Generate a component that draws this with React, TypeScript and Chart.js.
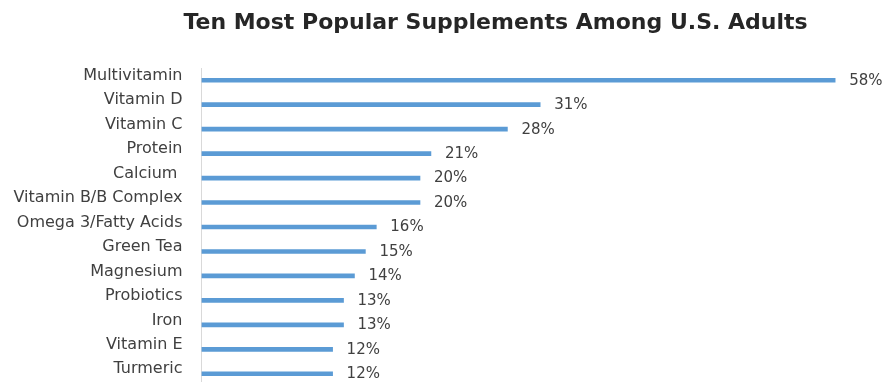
import React, { useEffect, useRef } from "react";
import { Chart, registerables } from "chart.js";

Chart.register(...registerables);

const TITLE = "Ten Most Popular Supplements Among U.S. Adults";
const categories = [
  "Multivitamin",
  "Vitamin D",
  "Vitamin C",
  "Protein",
  "Calcium ",
  "Vitamin B/B Complex",
  "Omega 3/Fatty Acids",
  "Green Tea",
  "Magnesium",
  "Probiotics",
  "Iron",
  "Vitamin E",
  "Turmeric",
];
const percentages = [58, 31, 28, 21, 20, 20, 16, 15, 14, 13, 13, 12, 12];
const X_MIN = 0;
const X_MAX = 60;

const titlePlugin = {
  id: "customTitle",
  afterDraw(chart: any) {
    const ctx = chart.ctx;
    ctx.save();
    ctx.font = "bold 22px 'DejaVu Sans'";
    ctx.fillStyle = "#262626";
    ctx.textAlign = "center";
    ctx.textBaseline = "alphabetic";
    ctx.fillText(TITLE, 495.5, 29);
    ctx.restore();
  },
};

const valueLabelPlugin = {
  id: "valueLabels",
  afterDatasetsDraw(chart: any) {
    const ctx = chart.ctx;
    const meta = chart.getDatasetMeta(0);
    const data = chart.data.datasets[0].data as number[];
    ctx.save();
    ctx.font = "15px 'DejaVu Sans'";
    ctx.fillStyle = "#404040";
    ctx.textAlign = "left";
    ctx.textBaseline = "middle";
    meta.data.forEach((bar: any, i: number) => {
      ctx.fillText(`${data[i]}%`, bar.x + 14, bar.y + 0.5);
    });
    ctx.restore();
  },
};

export default function App() {
  const canvasRef = useRef<HTMLCanvasElement | null>(null);

  useEffect(() => {
    if (!canvasRef.current) return;
    const chart = new Chart(canvasRef.current, {
      type: "bar",
      data: {
        labels: categories,
        datasets: [
          {
            data: percentages,
            backgroundColor: "#5b9bd5",
            borderWidth: 0,
            barThickness: 4,
          },
        ],
      },
      options: {
        indexAxis: "y",
        animation: false,
        responsive: true,
        maintainAspectRatio: false,
        layout: { padding: { top: 68, right: 28, left: 0, bottom: 0 } },
        plugins: {
          legend: { display: false },
          title: { display: false },
          tooltip: { enabled: false },
        },
        scales: {
          x: { display: false, min: X_MIN, max: X_MAX },
          y: {
            grid: { display: false, drawTicks: false },
            border: { display: true, color: "#d9d9d9", width: 1 },
            ticks: {
              autoSkip: false,
              padding: 19,
              labelOffset: -4.5,
              color: "#404040",
              font: { family: "'DejaVu Sans'", size: 16 },
            },
            afterFit(scale: any) {
              scale.width = 201.5;
              scale.paddingTop = 0;
              scale.paddingBottom = 0;
            },
          },
        },
      },
      plugins: [titlePlugin, valueLabelPlugin],
    });
    return () => chart.destroy();
  }, []);

  return (
    <div
      style={{
        position: "fixed",
        left: 0,
        top: 0,
        width: 885,
        height: 382,
        overflow: "hidden",
        background: "#ffffff",
      }}
    >
      <div style={{ position: "relative", width: 885, height: 386 }}>
        <canvas ref={canvasRef} />
      </div>
    </div>
  );
}
